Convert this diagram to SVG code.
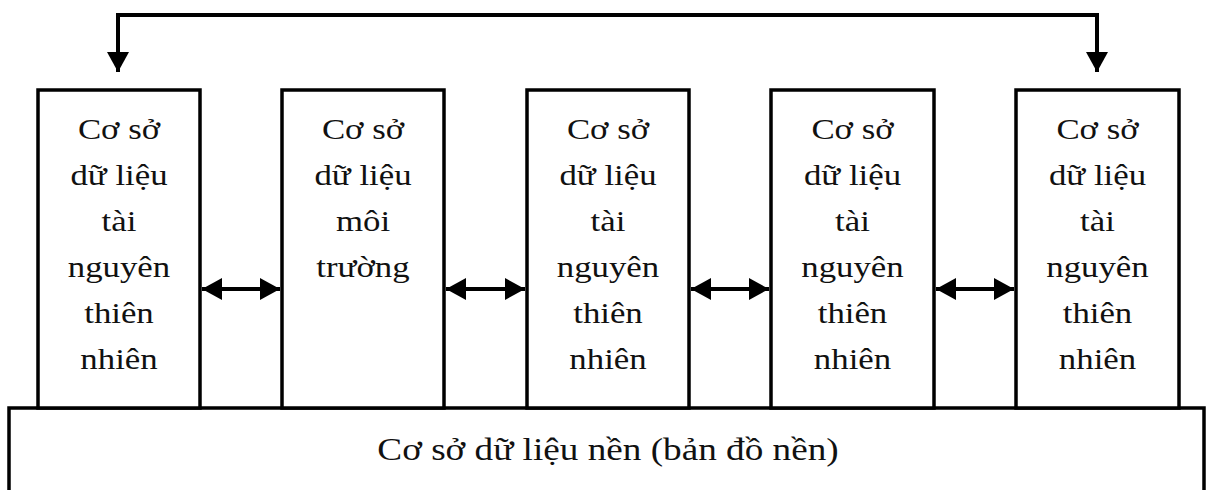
<svg xmlns="http://www.w3.org/2000/svg" width="1207" height="490" viewBox="0 0 1207 490">
  <style>
    .box { fill: #fff; stroke: #000; stroke-width: 3.5; }
    .lbl { font-family: "Liberation Serif", "Times New Roman", serif; font-size: 29px; fill: #111; text-anchor: middle; }
    .base { font-size: 31px; }
    .wire { fill: none; stroke: #000; stroke-width: 4; }
  </style>
  <defs>
    <marker id="head" markerUnits="userSpaceOnUse" viewBox="0 0 20 22" refX="20" refY="11" markerWidth="20" markerHeight="22" orient="auto-start-reverse">
      <path d="M0,0 L20,11 L0,22 Z" fill="#000"/>
    </marker>
  </defs>

  <!-- base layer (background map) -->
  <g id="base-db">
    <rect class="box" x="9" y="408" width="1195" height="100"/>
    <text class="lbl base" transform="translate(608,460) scale(1.2,1)" x="0" y="0">Cơ sở dữ liệu nền (bản đồ nền)</text>
  </g>

  <!-- thematic databases -->
  <g id="db-1">
    <rect class="box" x="38" y="90" width="162" height="318"/>
    <g transform="translate(119,0) scale(1.2,1)">
      <text class="lbl" x="0" y="139">Cơ sở</text>
      <text class="lbl" x="0" y="185">dữ liệu</text>
      <text class="lbl" x="0" y="231">tài</text>
      <text class="lbl" x="0" y="277">nguyên</text>
      <text class="lbl" x="0" y="323">thiên</text>
      <text class="lbl" x="0" y="369">nhiên</text>
    </g>
  </g>
  <g id="db-2">
    <rect class="box" x="282" y="90" width="162" height="318"/>
    <g transform="translate(363,0) scale(1.2,1)">
      <text class="lbl" x="0" y="139">Cơ sở</text>
      <text class="lbl" x="0" y="185">dữ liệu</text>
      <text class="lbl" x="0" y="231">môi</text>
      <text class="lbl" x="0" y="277">trường</text>
    </g>
  </g>
  <g id="db-3">
    <rect class="box" x="527" y="90" width="162" height="318"/>
    <g transform="translate(608,0) scale(1.2,1)">
      <text class="lbl" x="0" y="139">Cơ sở</text>
      <text class="lbl" x="0" y="185">dữ liệu</text>
      <text class="lbl" x="0" y="231">tài</text>
      <text class="lbl" x="0" y="277">nguyên</text>
      <text class="lbl" x="0" y="323">thiên</text>
      <text class="lbl" x="0" y="369">nhiên</text>
    </g>
  </g>
  <g id="db-4">
    <rect class="box" x="771" y="90" width="163" height="318"/>
    <g transform="translate(852.5,0) scale(1.2,1)">
      <text class="lbl" x="0" y="139">Cơ sở</text>
      <text class="lbl" x="0" y="185">dữ liệu</text>
      <text class="lbl" x="0" y="231">tài</text>
      <text class="lbl" x="0" y="277">nguyên</text>
      <text class="lbl" x="0" y="323">thiên</text>
      <text class="lbl" x="0" y="369">nhiên</text>
    </g>
  </g>
  <g id="db-5">
    <rect class="box" x="1016" y="90" width="163" height="318"/>
    <g transform="translate(1097.5,0) scale(1.2,1)">
      <text class="lbl" x="0" y="139">Cơ sở</text>
      <text class="lbl" x="0" y="185">dữ liệu</text>
      <text class="lbl" x="0" y="231">tài</text>
      <text class="lbl" x="0" y="277">nguyên</text>
      <text class="lbl" x="0" y="323">thiên</text>
      <text class="lbl" x="0" y="369">nhiên</text>
    </g>
  </g>

  <!-- links -->
  <g id="connectors">
    <path class="wire" d="M118,72 V15 H1097 V72" marker-start="url(#head)" marker-end="url(#head)"/>
    <line class="wire" x1="202" y1="289" x2="280" y2="289" marker-start="url(#head)" marker-end="url(#head)"/>
    <line class="wire" x1="446" y1="289" x2="525" y2="289" marker-start="url(#head)" marker-end="url(#head)"/>
    <line class="wire" x1="691" y1="289" x2="769" y2="289" marker-start="url(#head)" marker-end="url(#head)"/>
    <line class="wire" x1="936" y1="289" x2="1014" y2="289" marker-start="url(#head)" marker-end="url(#head)"/>
  </g>
</svg>
